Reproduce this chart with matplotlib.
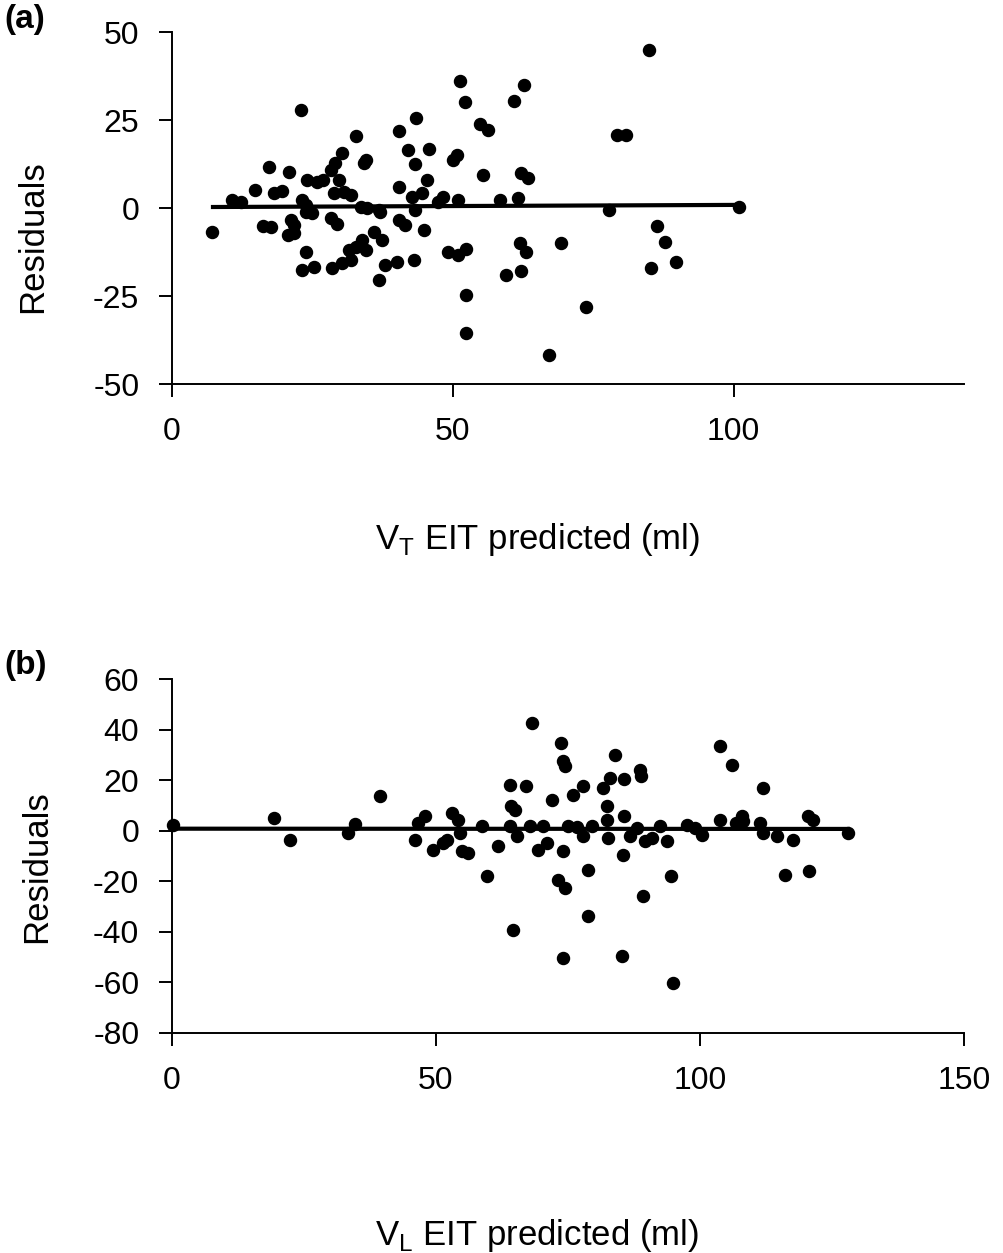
"""
Residual plots for V_T and V_L EIT predictions, panels (a) and (b).
Saves out.png.
"""
import matplotlib
matplotlib.use("Agg")
import matplotlib.pyplot as plt

plt.rcParams["font.family"] = ["Liberation Sans", "DejaVu Sans"]
plt.rcParams["axes.unicode_minus"] = False

# ---------------------------------------------------------------------------
# DATA
# ---------------------------------------------------------------------------
vt_pred = [7.1, 10.6, 12.3, 14.7, 16.2, 17.6, 17.3, 18.2, 19.6, 20.8, 21.2, 21.8,
           20.6, 21.8, 23.0, 23.2, 23.8, 23.8, 25.0, 23.8, 23.2, 25.3, 24.1, 25.9,
           26.8, 28.3, 29.1, 30.2, 29.7, 28.8, 30.6, 31.8, 28.3, 29.4, 28.5, 30.3,
           31.5, 32.7, 33.9, 34.5, 31.8, 32.7, 34.2, 34.5, 33.6, 34.8, 36.8, 35.9,
           37.4, 36.8, 37.1, 38.0, 40.1, 40.4, 40.4, 40.4, 41.5, 42.1, 43.3, 43.4,
           42.7, 44.5, 43.0, 43.3, 44.8, 45.4, 45.8, 47.4, 48.3, 49.2, 51.0, 50.1,
           50.7, 51.0, 51.3, 52.2, 52.4, 52.4, 52.4, 54.8, 56.3, 55.4, 58.4, 59.5,
           60.9, 61.6, 61.9, 63.1, 62.2, 62.2, 63.4, 62.6, 67.2, 69.3, 73.7, 77.8,
           79.3, 80.8, 84.9, 85.3, 86.3, 87.7, 89.8, 101.0]
vt_resid = [-6.8, 2.3, 1.8, 5.1, -5.1, -5.3, 11.7, 4.2, 4.9, 10.3, -3.4, -4.8,
            -7.7, -7.2, 27.8, 2.3, 0.9, -1.0, -1.5, -12.4, -17.6, -16.7, 8.0, 7.5,
            8.0, 10.8, 12.8, 15.6, 8.0, 4.3, 4.6, 3.7, -2.9, -4.4, -17.1, -15.7,
            -11.9, -11.0, -9.1, -11.9, -14.8, 20.4, 12.8, 13.6, 0.4, -0.1, -0.6, -6.7,
            -9.1, -20.5, -1.0, -16.2, -15.2, 22.0, 6.0, -3.4, -4.8, 16.5, 12.5, 25.6,
            3.2, 4.2, -14.8, -0.6, -6.2, 8.0, 16.8, 1.8, 3.2, -12.4, -13.4, 13.6,
            15.0, 2.3, 36.0, 30.0, -11.5, -24.7, -35.6, 24.0, 22.2, 9.4, 2.3, -19.0,
            30.4, 2.8, -10.0, -12.4, -17.9, 9.9, 8.4, 35.0, -41.8, -10.0, -28.0, -0.6,
            20.7, 20.7, 44.9, -16.9, -5.1, -9.6, -15.2, 0.4]
vt_fit_x = [7.3, 101.0]
vt_fit_y = [0.3, 0.9]

vl_pred = [0.25, 19.3, 22.3, 33.4, 34.7, 39.4, 46.0, 46.6, 47.9, 49.5, 51.4, 52.0,
           53.0, 54.2, 54.5, 54.9, 56.1, 58.7, 59.6, 61.8, 64.0, 64.0, 64.3, 65.0,
           64.6, 65.3, 67.0, 67.8, 68.1, 69.4, 70.3, 71.0, 71.9, 73.2, 74.4, 73.6,
           74.1, 74.4, 74.1, 74.1, 75.0, 76.0, 76.7, 77.9, 77.9, 78.8, 78.8, 79.5,
           81.7, 83.0, 82.3, 82.3, 82.6, 83.9, 85.2, 85.5, 85.7, 85.7, 86.7, 88.0,
           88.6, 88.9, 89.3, 89.6, 90.9, 92.4, 93.7, 94.6, 94.9, 97.5, 99.0, 100.3,
           103.8, 103.8, 106.0, 106.9, 107.9, 108.2, 111.4, 112.0, 112.0, 114.5,
           116.1, 117.7, 120.5, 121.5, 120.7, 128.1]
vl_resid = [2.4, 5.0, -3.6, -0.9, 2.6, 13.6, -3.6, 3.0, 5.7, -7.5, -4.9, -3.6,
            7.0, 4.3, -0.9, -8.2, -8.8, 2.0, -18.0, -6.2, 18.2, 2.0, 9.6, 8.3,
            -39.1, -2.2, 17.5, 2.0, 42.6, -7.5, 2.0, -4.9, 12.3, -19.4, -22.7, 34.7,
            27.4, 25.4, -8.2, -50.3, 2.0, 14.2, 1.3, 17.5, -2.2, -15.4, -33.9, 2.0,
            16.9, 20.8, 9.6, 4.3, -2.9, 30.0, -49.7, -9.5, 20.4, 5.7, -2.2, 1.0,
            24.1, 21.5, -26.0, -4.2, -2.9, 2.0, -4.2, -18.0, -60.2, 2.4, 1.0, -1.6,
            33.6, 4.3, 25.8, 3.0, 5.7, 3.7, 3.0, 16.9, -0.9, -2.2,
            -17.4, -3.6, 5.7, 4.3, -16.1, -0.9]
vl_fit_x = [0.0, 128.0]
vl_fit_y = [0.8, 0.7]


def style_axes(ax, xlim, xticks, ylim, yticks):
    ax.set_xlim(*xlim)
    ax.set_ylim(*ylim)
    ax.set_xticks(xticks)
    ax.set_yticks(yticks)
    for side in ("top", "right"):
        ax.spines[side].set_visible(False)
    for side in ("left", "bottom"):
        ax.spines[side].set_linewidth(1.4)
    ax.tick_params(direction="out", length=9.5, width=1.4, pad=14, labelsize=23)


fig = plt.figure(figsize=(10.04, 12.53), dpi=100)

# panel (a)
ax1 = fig.add_axes([0.1713, 0.6935, 0.7888, 0.2809])
ax1.scatter(vt_pred, vt_resid, s=75, color="black", marker="o", zorder=3, clip_on=False)
ax1.plot(vt_fit_x, vt_fit_y, color="black", linewidth=3, zorder=2)
style_axes(ax1, (0, 141), [0, 50, 100], (-50, 50), [-50, -25, 0, 25, 50])
ax1.set_ylabel("Residuals", fontsize=25)
ax1.yaxis.set_label_coords(-0.155, 0.42)
ax1.set_xlabel(r"V$_\mathregular{T}$ EIT predicted (ml)", fontsize=25)
ax1.xaxis.set_label_coords(0.461, -0.39)
fig.text(0.004, 0.997, "(a)", fontsize=24, fontweight="bold", va="top", ha="left")

# panel (b)
ax2 = fig.add_axes([0.1713, 0.1756, 0.7888, 0.2825])
ax2.scatter(vl_pred, vl_resid, s=75, color="black", marker="o", zorder=3, clip_on=False)
ax2.plot(vl_fit_x, vl_fit_y, color="black", linewidth=3, zorder=2)
style_axes(ax2, (0, 150), [0, 50, 100, 150], (-80, 60), list(range(-80, 61, 20)))
ax2.set_ylabel("Residuals", fontsize=25)
ax2.yaxis.set_label_coords(-0.15, 0.47)
ax2.set_xlabel(r"V$_\mathregular{L}$ EIT predicted (ml)", fontsize=25)
ax2.xaxis.set_label_coords(0.461, -0.52)
fig.text(0.004, 0.481, "(b)", fontsize=24, fontweight="bold", va="top", ha="left")

fig.savefig("out.png", dpi=100)
